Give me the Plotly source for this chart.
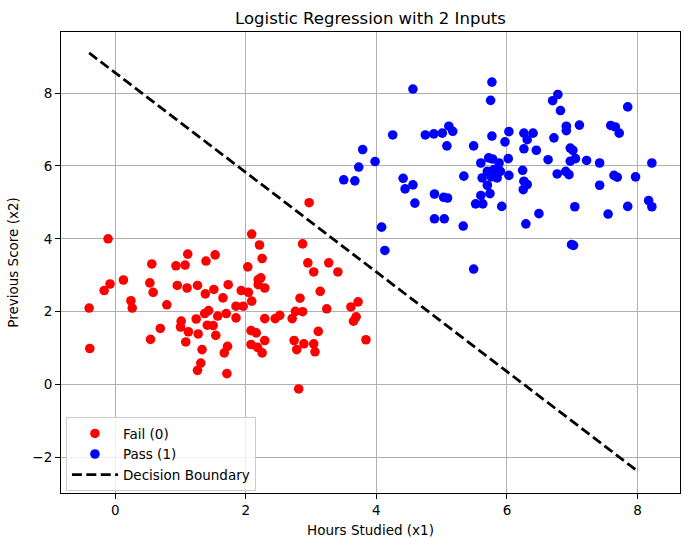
import plotly.graph_objects as go

# Fail (0) points
fail_x1 = [-0.11, 0.56, 0.125, -0.08, -0.17, 0.53, 0.58, 0.93, 1.07, 1.11, 1.39, 1.53, 0.95, 1.10, 1.26,
           1.51, 1.38, 1.73, -0.40, -0.39, 0.24, 0.26, 0.79, 0.69, 0.54, 1.01, 1.00, 1.12, 1.08, 1.24,
           1.27, 1.37, 1.43, 1.41, 1.50, 1.54, 1.57, 1.70, 1.65, 1.33, 1.31, 1.26, 1.67, 1.72, 1.71,
           2.97, 2.09, 2.21, 2.25, 2.03, 2.87, 2.95, 3.04, 3.27, 3.41, 2.19, 2.23, 2.19, 2.29, 1.93,
           2.04, 2.83, 3.14, 1.85, 1.96, 1.85, 2.09, 2.29, 2.45, 2.52, 2.71, 2.76, 2.87, 3.24, 3.61,
           3.72, 3.69, 3.65, 3.11, 3.84, 2.08, 2.16, 2.29, 2.08, 2.18, 2.25, 2.74, 2.89, 2.78, 3.04,
           3.06, 2.81]
fail_x2 = [4.00, 3.31, 2.87, 2.76, 2.58, 2.79, 2.53, 3.26, 3.28, 3.58, 3.39, 3.56, 2.72, 2.65, 2.72,
           2.61, 2.49, 2.74, 2.10, 0.99, 2.30, 2.10, 2.19, 1.54, 1.24, 1.74, 1.58, 1.45, 1.17, 1.80,
           1.39, 1.95, 2.03, 1.63, 1.62, 1.35, 1.88, 1.95, 2.38, 0.96, 0.59, 0.39, 0.87, 1.05, 0.30,
           4.99, 4.13, 3.83, 3.46, 3.23, 3.86, 3.34, 3.09, 3.34, 3.09, 2.88, 2.93, 2.74, 2.65, 2.58,
           2.53, 2.37, 2.56, 2.15, 2.15, 1.83, 2.29, 1.81, 1.81, 1.90, 1.81, 2.01, 2.00, 2.08, 2.13,
           2.27, 1.86, 1.74, 1.46, 1.23, 1.48, 1.42, 1.21, 1.10, 1.02, 0.87, 1.21, 1.12, 0.96, 1.12,
           0.90, -0.12]

# Pass (1) points
pass_x1 = [4.56, 4.25, 3.79, 3.98, 3.73, 3.50, 3.67, 4.41, 4.56, 4.44, 4.59, 4.08, 4.13, 5.77, 5.75,
           4.75, 4.88, 5.01, 5.11, 5.17, 5.08, 5.49, 5.77, 6.03, 5.97, 6.26, 6.40, 6.31, 6.26, 6.45,
           6.02, 5.60, 5.72, 5.78, 5.88, 6.24, 5.34, 5.62, 5.85, 6.03, 5.70, 5.80, 5.90, 5.70, 5.74,
           5.60, 5.52, 5.63, 5.92, 4.89, 5.03, 5.09, 4.89, 5.04, 5.33, 5.49, 6.26, 6.31, 6.25, 6.49,
           6.29, 6.78, 6.70, 6.82, 7.85, 6.91, 6.91, 7.11, 7.59, 7.66, 7.72, 6.72, 6.97, 7.01, 6.63,
           7.05, 6.97, 7.22, 7.42, 8.22, 6.77, 6.90, 6.95, 7.64, 7.97, 7.69, 7.42, 7.04, 7.55, 7.85,
           8.17, 8.22, 6.99, 7.02, 5.76]
pass_x2 = [8.11, 6.85, 6.45, 6.12, 5.97, 5.62, 5.59, 5.66, 5.48, 5.37, 4.98, 4.32, 3.68, 8.30, 7.80,
           6.85, 6.88, 6.90, 7.09, 6.95, 6.55, 6.55, 6.82, 6.94, 6.66, 6.90, 6.90, 6.72, 6.47, 6.43,
           6.20, 6.08, 6.22, 6.19, 6.08, 5.88, 5.72, 5.67, 5.67, 5.74, 5.85, 5.90, 5.85, 5.47, 5.24,
           5.19, 4.96, 4.96, 4.89, 5.23, 5.14, 5.12, 4.55, 4.55, 4.35, 3.17, 5.58, 5.49, 5.35, 4.69,
           4.41, 7.96, 7.79, 7.52, 7.62, 7.09, 6.97, 7.12, 7.11, 7.07, 6.90, 6.77, 6.49, 6.43, 6.17,
           6.20, 6.13, 6.15, 6.08, 6.08, 5.78, 5.85, 5.76, 5.74, 5.70, 5.69, 5.47, 4.88, 4.68, 4.89,
           5.05, 4.88, 3.84, 3.82, 5.70]

# Decision boundary endpoints
boundary_x1 = [-0.40, 8.02]
boundary_x2 = [9.10, -2.40]

x_ticks = [0, 2, 4, 6, 8]
y_ticks = [-2, 0, 2, 4, 6, 8]

FONT = "DejaVu Sans"

fig = go.Figure()
fig.add_trace(go.Scatter(x=fail_x1, y=fail_x2, mode="markers", name="Fail (0)",
                         marker=dict(color="#ff0000", size=9.6, line=dict(width=0))))
fig.add_trace(go.Scatter(x=pass_x1, y=pass_x2, mode="markers", name="Pass (1)",
                         marker=dict(color="#0000ff", size=9.6, line=dict(width=0))))
fig.add_trace(go.Scatter(x=boundary_x1, y=boundary_x2, mode="lines", name="Decision Boundary",
                         line=dict(color="black", width=2.8, dash="10px,4.4px")))

axis_common = dict(
    showgrid=True, gridcolor="#b0b0b0", gridwidth=1.1,
    showline=True, linecolor="black", linewidth=1.1, mirror=True,
    ticks="outside", ticklen=5, tickcolor="black", tickwidth=1.1,
    zeroline=False,
    tickfont=dict(family=FONT, size=13.5, color="black"),
)

fig.update_xaxes(range=[-0.831, 8.651], tickvals=x_ticks,
                 title=dict(text="Hours Studied (x1)", font=dict(family=FONT, size=13.5, color="black"), standoff=8),
                 **axis_common)
fig.update_yaxes(range=[-2.975, 9.675], tickvals=y_ticks,
                 title=dict(text="Previous Score (x2)", font=dict(family=FONT, size=13.5, color="black"), standoff=10),
                 **axis_common)

fig.update_layout(
    width=689, height=547,
    margin=dict(l=61, r=9, t=32, b=54),
    paper_bgcolor="white", plot_bgcolor="white",
    font=dict(family=FONT, color="black"),
    title=dict(text="Logistic Regression with 2 Inputs", x=(61 + 680) / 2 / 689, xanchor="center",
               y=1 - 18 / 547, yanchor="middle", yref="container",
               font=dict(family=FONT, size=16.5, color="black")),
    legend=dict(x=0.008, y=0.004, xanchor="left", yanchor="bottom",
                bgcolor="rgba(255,255,255,0.8)", bordercolor="#cccccc", borderwidth=1,
                font=dict(family=FONT, size=13.5, color="black"),
                tracegroupgap=0, itemwidth=46),
    showlegend=True,
)

fig.write_html("out.html")
